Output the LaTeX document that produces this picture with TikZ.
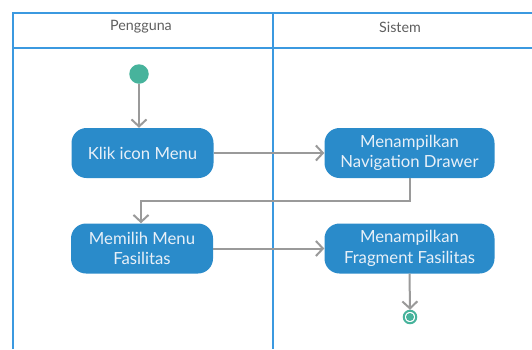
\documentclass[tikz,border=0pt]{standalone}
\usepackage{fontspec}
\setmainfont{Lato}
\usetikzlibrary{arrows.meta}
\definecolor{lane}{HTML}{3B99E0}
\definecolor{act}{HTML}{2A8BCA}
\definecolor{acttext}{HTML}{E8F0F8}
\definecolor{flow}{HTML}{9A9A9A}
\definecolor{dot}{HTML}{47B39C}
\definecolor{head}{HTML}{5E5E5E}
\begin{document}
\begin{tikzpicture}[x=1pt,y=-1pt,
  lanebox/.style={draw=lane,line width=2pt},
  headtext/.style={text=head,font=\fontsize{14.3}{17}\selectfont},
  activity/.style={fill=act,rounded corners=15pt,minimum width=170pt,minimum height=50pt,
    text=acttext,align=center,inner sep=0pt,font=\fontsize{16.7}{20.7}\selectfont},
  flowline/.style={draw=flow,line width=2pt,-{Straight Barb[length=7pt,width=15pt]}}]
\useasboundingbox (0,0) rectangle (532,349);
% swimlanes
\draw[lanebox] (13,349) -- (13,12.5) -- (540,12.5);
\draw[lanebox] (13,48) -- (540,48);
\draw[lanebox] (272.5,12.5) -- (272.5,349);
\node[headtext] (h1) at (141,27) {Pengguna};
\node[headtext] (h2) at (400,27) {Sistem};
% nodes
\node[circle,fill=dot,minimum size=19.5pt,inner sep=0pt] (start) at (139,74) {};
\node[activity,minimum width=142pt] (klik) at (142.5,153) {Klik icon Menu};
\node[activity] (nav) at (409.5,153) {Menampilkan\\Navigation Drawer};
\node[activity,minimum width=142pt] (pilih) at (142,248.5) {Memilih Menu\\Fasilitas};
\node[activity] (frag) at (409.5,248.5) {Menampilkan\\Fragment Fasilitas};
\node[circle,draw=dot,line width=2pt,fill=white,minimum size=12.5pt,inner sep=0pt] (end) at (410,317) {};
\fill[dot] (end.center) circle (4pt);
% flows
\draw[flowline] (start) -- (klik.north -| start);
\draw[flowline] (klik) -- (nav);
\coordinate (bend) at (141,200.5);
\draw[flowline] (nav.south) |- (bend) -- (pilih.north -| bend);
\draw[flowline] (pilih) -- (frag);
\draw[flowline] (frag.south) -- (end.north);
\end{tikzpicture}
\end{document}
